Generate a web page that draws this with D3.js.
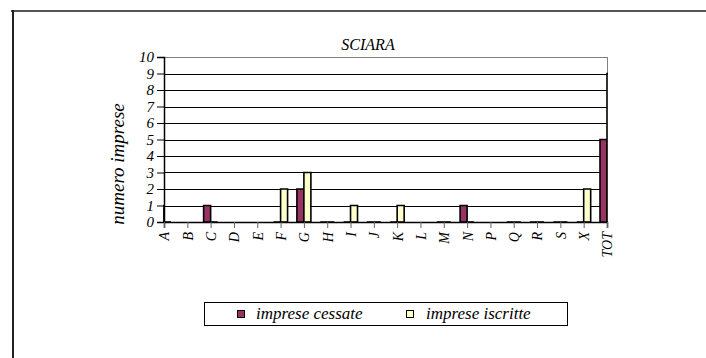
<!DOCTYPE html>
<html><head><meta charset="utf-8">
<script src="https://cdn.jsdelivr.net/npm/d3@7"></script>
<style>body{margin:0;background:#fff}svg{display:block}</style>
</head><body>
<svg id="c" width="706" height="358"></svg>
<script>
const title = "SCIARA";
const yTitle = "numero imprese";
const categories = ["A","B","C","D","E","F","G","H","I","J","K","L","M","N","P","Q","R","S","X","TOT"];
const cessate  = [1,null,1,null,null,0,2,0,0,0,0,null,0,1,null,0,0,0,0,5];
const iscritte = [0,null,0,null,null,2,3,0,1,0,1,null,0,0,null,0,0,0,2,9];
const yTicks = [0,1,2,3,4,5,6,7,8,9,10];
const seriesNames = ["imprese cessate","imprese iscritte"];
const colors = ["#993366","#FFFFCC"];

const FONT = "Liberation Serif";
const svg = d3.select("#c");
const L=164, R=607, T=57, B=222;
const x = d3.scalePoint().domain(categories).range([L,R]).padding(0);
const y = d3.scaleLinear().domain([0,10]).range([B,T]);
const bw = 7;

// outer frame
svg.append("line").attr("x1",11).attr("x2",706).attr("y1",11).attr("y2",11).attr("stroke","#555").attr("stroke-width",2);
svg.append("line").attr("x1",13).attr("x2",13).attr("y1",10).attr("y2",358).attr("stroke","#222").attr("stroke-width",2);

// grid
svg.append("g").selectAll("line").data(yTicks.filter(d=>d>0&&d<10)).join("line")
  .attr("x1",L).attr("x2",R).attr("y1",d=>Math.round(y(d))+0.5).attr("y2",d=>Math.round(y(d))+0.5)
  .attr("stroke","#000").attr("stroke-width",1);
// plot border top/right
svg.append("line").attr("x1",L).attr("x2",R).attr("y1",T+0.5).attr("y2",T+0.5).attr("stroke","#808080");
svg.append("line").attr("x1",R+0.5).attr("x2",R+0.5).attr("y1",T).attr("y2",B).attr("stroke","#808080");

// clip
svg.append("clipPath").attr("id","pc").append("rect").attr("x",L-1).attr("y",T-2).attr("width",R-L+2).attr("height",B-T+4);
const bars = svg.append("g").attr("clip-path","url(#pc)");
const rows = categories.map((c,i)=>({c, v:[cessate[i],iscritte[i]]}));
[0,1].forEach(s=>{
  bars.append("g").selectAll("path").data(rows.filter(r=>r.v[s]!==null)).join("path")
    .attr("d",r=>{
      const x0 = x(r.c)+(s===0?-bw:0), y0 = y(r.v[s]);
      return `M${x0},${B}V${y0}H${x0+bw}V${B}Z`;
    })
    .attr("fill",colors[s]).attr("stroke","#000").attr("stroke-width",1.6);
});

// axes
const ya = svg.append("g").attr("transform",`translate(${L},0)`)
  .call(d3.axisLeft(y).tickValues(yTicks).tickSize(7).tickPadding(3).tickFormat(d3.format("d")));
ya.attr("font-family",FONT).attr("font-style","italic");
ya.select(".domain").attr("stroke","#000").attr("stroke-width",1.5);
ya.selectAll(".tick line").attr("stroke","#000");
ya.selectAll("text").attr("font-size",15).attr("fill","#000").attr("font-family",FONT).attr("font-style","italic");

const xa = svg.append("g").attr("transform",`translate(0,${B})`)
  .call(d3.axisBottom(x).tickSize(6).tickPadding(4));
xa.attr("font-family",FONT).attr("font-style","italic");
xa.select(".domain").attr("stroke","#000").attr("stroke-width",1.5);
xa.selectAll(".tick line").attr("stroke","#666");
xa.selectAll("text").attr("font-size",14).attr("fill","#000").attr("font-family",FONT).attr("font-style","italic")
  .attr("transform","rotate(-90)").attr("text-anchor","end").attr("x",-10).attr("y",0).attr("dy","0.35em");

// titles
svg.append("text").attr("x",368).attr("y",50).attr("text-anchor","middle").attr("font-size",16)
  .attr("font-family",FONT).attr("font-style","italic").text(title);
svg.append("text").attr("transform","translate(124,164) rotate(-90)").attr("text-anchor","middle").attr("font-size",19)
  .attr("font-family",FONT).attr("font-style","italic").text(yTitle);

// legend
const lg = svg.append("g");
lg.append("rect").attr("x",204.5).attr("y",302.5).attr("width",363).attr("height",23).attr("fill","#fff").attr("stroke","#000");
const lx=[237,406], tx=[256,426];
[0,1].forEach(s=>{
  lg.append("rect").attr("x",lx[s]+0.5).attr("y",310.5).attr("width",7).attr("height",7).attr("fill",colors[s]).attr("stroke","#000");
  lg.append("text").attr("x",tx[s]).attr("y",319).attr("font-size",17)
    .attr("font-family",FONT).attr("font-style","italic").text(seriesNames[s]);
});
</script>
</body></html>
